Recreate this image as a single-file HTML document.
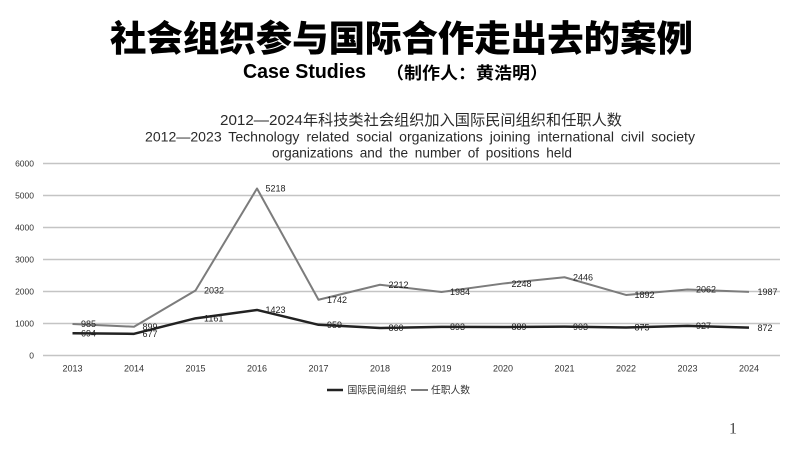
<!DOCTYPE html>
<html>
<head>
<meta charset="utf-8">
<style>
  html,body{margin:0;padding:0;background:#fff;}
  body{width:800px;height:449px;overflow:hidden;}
  svg{display:block;}
  .cjk{font-family:"Liberation Sans","Noto Sans CJK SC",sans-serif;}
  .lat{font-family:"Liberation Sans","Noto Sans CJK SC",sans-serif;}
</style>
</head>
<body>
<svg width="800" height="449" viewBox="0 0 800 449" xmlns="http://www.w3.org/2000/svg">
  <rect width="800" height="449" fill="#fff"/>

  <!-- Main title -->
  <text x="110" y="51" class="cjk" font-size="36" font-weight="900" fill="#000" textLength="583" lengthAdjust="spacingAndGlyphs">社会组织参与国际合作走出去的案例</text>
  <!-- Subtitle -->
  <text x="243" y="78" class="lat" font-size="20" font-weight="bold" fill="#000" textLength="123" lengthAdjust="spacingAndGlyphs">Case Studies</text>
  <text x="386" y="79" class="cjk" font-size="17" font-weight="bold" fill="#000" textLength="162" lengthAdjust="spacingAndGlyphs">（制作人：黄浩明）</text>

  <!-- Chart title -->
  <text x="220" y="125" class="cjk" font-size="15" fill="#2a2a2a" textLength="402" lengthAdjust="spacingAndGlyphs">2012—2024年科技类社会组织加入国际民间组织和任职人数</text>
  <text x="145" y="141.7" class="lat" font-size="14" fill="#2a2a2a" word-spacing="3" textLength="550" lengthAdjust="spacingAndGlyphs">2012—2023 Technology related social organizations joining international civil society</text>
  <text x="272" y="157.5" class="lat" font-size="14" fill="#2a2a2a" word-spacing="3" textLength="300" lengthAdjust="spacingAndGlyphs">organizations and the number of positions held</text>

  <!-- Gridlines -->
  <g stroke="#c4c4c4" stroke-width="1.5">
    <line x1="43" y1="163.5" x2="780" y2="163.5"/>
    <line x1="43" y1="195.5" x2="780" y2="195.5"/>
    <line x1="43" y1="227.5" x2="780" y2="227.5"/>
    <line x1="43" y1="259.5" x2="780" y2="259.5"/>
    <line x1="43" y1="291.5" x2="780" y2="291.5"/>
    <line x1="43" y1="323.5" x2="780" y2="323.5"/>
    <line x1="43" y1="355.5" x2="780" y2="355.5"/>
  </g>

  <!-- Y axis labels -->
  <g class="lat" font-size="8.5" fill="#333" text-anchor="end">
    <text x="34" y="166.5">6000</text>
    <text x="34" y="198.5">5000</text>
    <text x="34" y="230.5">4000</text>
    <text x="34" y="262.5">3000</text>
    <text x="34" y="294.5">2000</text>
    <text x="34" y="326.5">1000</text>
    <text x="34" y="358.5">0</text>
  </g>

  <!-- X axis labels -->
  <g class="lat" font-size="9" fill="#333" text-anchor="middle">
    <text x="72.5" y="371.5">2013</text>
    <text x="134" y="371.5">2014</text>
    <text x="195.5" y="371.5">2015</text>
    <text x="257" y="371.5">2016</text>
    <text x="318.5" y="371.5">2017</text>
    <text x="380" y="371.5">2018</text>
    <text x="441.5" y="371.5">2019</text>
    <text x="503" y="371.5">2020</text>
    <text x="564.5" y="371.5">2021</text>
    <text x="626" y="371.5">2022</text>
    <text x="687.5" y="371.5">2023</text>
    <text x="749" y="371.5">2024</text>
  </g>

  <!-- Gray series: 任职人数 -->
  <polyline fill="none" stroke="#7c7c7c" stroke-width="2" stroke-linejoin="round"
    points="72.5,323.98 134,326.73 195.5,290.48 257,188.52 318.5,299.76 380,284.72 441.5,292.01 503,283.56 564.5,277.23 626,294.96 687.5,289.52 749,291.92"/>
  <!-- Black series: 国际民间组织 -->
  <polyline fill="none" stroke="#222" stroke-width="2.5" stroke-linejoin="round"
    points="72.5,333.29 134,333.84 195.5,318.35 257,309.96 318.5,324.81 380,327.98 441.5,326.92 503,327.05 564.5,326.6 626,327.5 687.5,325.84 749,327.6"/>

  <!-- Data labels gray -->
  <g class="lat" font-size="9" fill="#222">
    <text x="81" y="327.2">985</text>
    <text x="142.5" y="330">899</text>
    <text x="204" y="293.7">2032</text>
    <text x="265.5" y="191.7">5218</text>
    <text x="327" y="303">1742</text>
    <text x="388.5" y="288">2212</text>
    <text x="450" y="295.2">1984</text>
    <text x="511.5" y="286.8">2248</text>
    <text x="573" y="280.4">2446</text>
    <text x="634.5" y="298.2">1892</text>
    <text x="696" y="292.7">2062</text>
    <text x="757.5" y="295.1">1987</text>
  </g>
  <!-- Data labels black -->
  <g class="lat" font-size="9" fill="#222">
    <text x="81" y="336.5">694</text>
    <text x="142.5" y="337">677</text>
    <text x="204" y="321.5">1161</text>
    <text x="265.5" y="313.2">1423</text>
    <text x="327" y="328">959</text>
    <text x="388.5" y="331.2">860</text>
    <text x="450" y="330.1">893</text>
    <text x="511.5" y="330.2">889</text>
    <text x="573" y="329.8">903</text>
    <text x="634.5" y="330.7">875</text>
    <text x="696" y="329">927</text>
    <text x="757.5" y="330.8">872</text>
  </g>

  <!-- Legend -->
  <line x1="327" y1="390" x2="343" y2="390" stroke="#222" stroke-width="2.5"/>
  <text x="347.5" y="393.5" class="cjk" font-size="10" fill="#333" textLength="59" lengthAdjust="spacingAndGlyphs">国际民间组织</text>
  <line x1="411" y1="390" x2="428" y2="390" stroke="#7c7c7c" stroke-width="2"/>
  <text x="431" y="393.5" class="cjk" font-size="10" fill="#333" textLength="39" lengthAdjust="spacingAndGlyphs">任职人数</text>

  <!-- Page number -->
  <text x="733" y="433.5" font-family="Liberation Serif, serif" font-size="16" fill="#444" text-anchor="middle">1</text>
</svg>
</body>
</html>
